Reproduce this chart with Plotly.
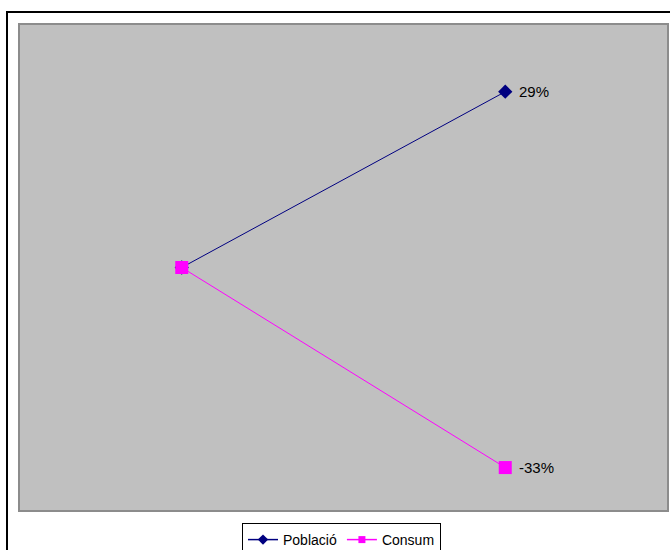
import plotly.graph_objects as go

categories = [1, 2]
poblacio = [0, 29]
consum = [0, -33]
poblacio_labels = ["", "29%"]
consum_labels = ["", "-33%"]

NAVY = "#000080"
MAGENTA = "#FF00FF"

fig = go.Figure()
fig.add_trace(go.Scatter(
    x=categories, y=poblacio, name="Població", mode="lines+markers",
    line=dict(color=NAVY, width=1),
    marker=dict(symbol="diamond", size=11, color=NAVY),
    showlegend=False,
))
fig.add_trace(go.Scatter(
    x=categories, y=consum, name="Consum", mode="lines+markers",
    line=dict(color=MAGENTA, width=1),
    marker=dict(symbol="square", size=13, color=MAGENTA),
    showlegend=False,
))
# legend entries (smaller legend symbols, like the original)
fig.add_trace(go.Scatter(
    x=[None], y=[None], name="Població", mode="lines+markers",
    line=dict(color=NAVY, width=1.5),
    marker=dict(symbol="diamond", size=8, color=NAVY),
))
fig.add_trace(go.Scatter(
    x=[None], y=[None], name="Consum", mode="lines+markers",
    line=dict(color=MAGENTA, width=1.5),
    marker=dict(symbol="square", size=7, color=MAGENTA),
))

for xs, ys, labels in ((categories, poblacio, poblacio_labels),
                       (categories, consum, consum_labels)):
    for x, y, t in zip(xs, ys, labels):
        if t:
            fig.add_annotation(x=x, y=y, text=t, showarrow=False,
                               xanchor="left", yanchor="middle", xshift=12,
                               font=dict(family="Liberation Sans, Arial", size=15,
                                         color="#000000"))

W, H = 670, 550
L, R, T, B = 20, 3, 25, 40
pw, ph = W - L - R, H - T - B

def px(x):
    return (x - L) / pw

def py(y):
    return (H - B - y) / ph

fig.update_layout(
    width=W, height=H,
    margin=dict(l=L, r=R, t=T, b=B, pad=0, autoexpand=False),
    paper_bgcolor="white", plot_bgcolor="#C0C0C0",
    font=dict(family="Liberation Sans, Arial", size=14, color="#000000"),
    xaxis=dict(range=[0.5, 2.5], showgrid=False, zeroline=False, showticklabels=False,
               ticks="", showline=True, linecolor="#8C8C8C", linewidth=2, mirror=True),
    yaxis=dict(range=[-40, 40], showgrid=False, zeroline=False, showticklabels=False,
               ticks="", showline=True, linecolor="#8C8C8C", linewidth=2, mirror=True),
    showlegend=True,
    legend=dict(orientation="h", x=px(242), xanchor="left", y=py(523), yanchor="top",
                bgcolor="white", bordercolor="#000000", borderwidth=1,
                font=dict(size=14), itemwidth=30, tracegroupgap=0),
    shapes=[dict(type="rect", xref="paper", yref="paper",
                 x0=px(7), x1=px(672), y0=py(560), y1=py(12),
                 line=dict(color="#000000", width=2), layer="below")],
)

fig.write_html("out.html", config={"displayModeBar": False},
               post_script="document.body.style.margin='0';")
